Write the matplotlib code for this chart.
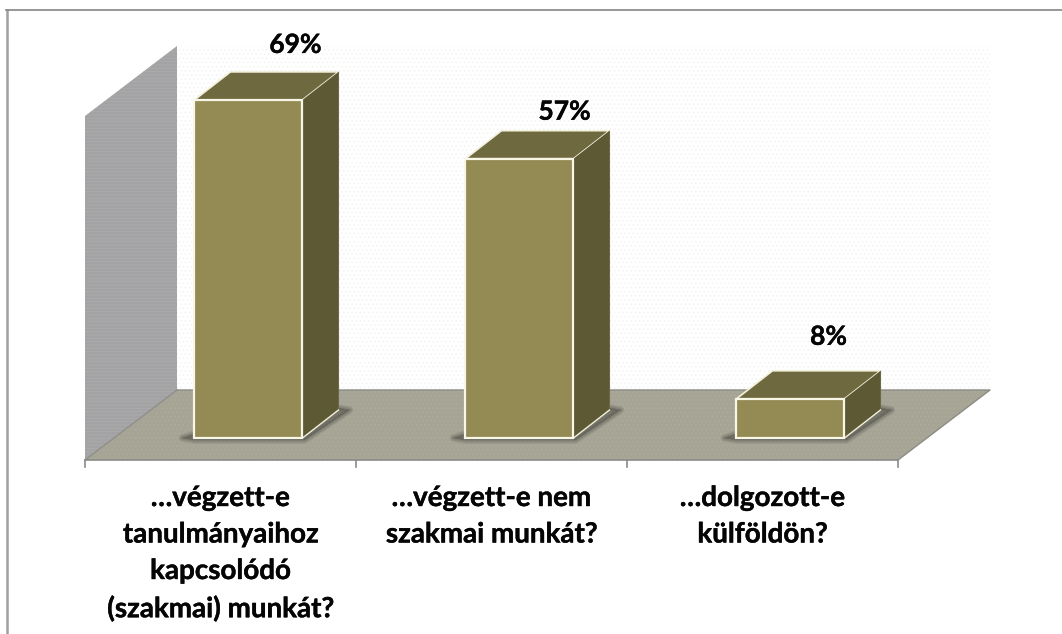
import numpy as np
import matplotlib
matplotlib.use("Agg")
import matplotlib.pyplot as plt
import matplotlib.patheffects as pe
from matplotlib.patches import Polygon

# adatok
kategoriak = ["…végzett-e\ntanulmányaihoz\nkapcsolódó\n(szakmai) munkát?",
              "…végzett-e nem\nszakmai munkát?",
              "…dolgozott-e\nkülföldön?"]
ertekek = [69, 57, 8]
cimkek = ["69%", "57%", "8%"]

W, H = 1062, 634
plt.rcParams['font.family'] = ['Lato', 'DejaVu Sans']
plt.rcParams['hatch.linewidth'] = 0.5

fig = plt.figure(figsize=(W / 100, H / 100), dpi=100)
fig.patch.set_facecolor("white")

# tengely: x 85..898 px, y: 0% = 438 px, 1% = 4.9 px
ax_bal, ax_jobb = 85, 898
y0_px, px_per_pct = 438, 4.9
ax_also, ax_felso = 460, 46
ax = fig.add_axes([ax_bal / W, 1 - ax_also / H, (ax_jobb - ax_bal) / W, (ax_also - ax_felso) / H])
ax.set_xlim(-0.5, 2.5)
ax.set_ylim((y0_px - ax_also) / px_per_pct, (y0_px - ax_felso) / px_per_pct)
ax.axis("off")

px_x = 3 / (ax_jobb - ax_bal)
px_y = 1 / px_per_pct
also, felso = ax.get_ylim()

# melyseg pixelben
mx, my = 36 * px_x, 28 * px_y
fal_mx, fal_my = 92 * px_x, 70 * px_y
szel = 108 * px_x
bal_res = 109.5 * px_x

felkover = [pe.withStroke(linewidth=0.3, foreground="#050505")]


def sokszog(pontok, **kw):
    p = Polygon(pontok, closed=True, clip_on=False, **kw)
    ax.add_patch(p)
    return p


# hatso fal, halvany pontokkal
sokszog([(-0.5 + fal_mx, also + fal_my), (2.5 + fal_mx, also + fal_my),
         (2.5 + fal_mx, felso), (-0.5 + fal_mx, felso)],
        facecolor="white", edgecolor="#f1f1ee", hatch="....", lw=0, zorder=1)

# oldalfal
sokszog([(-0.5, also), (-0.5 + fal_mx, also + fal_my), (-0.5 + fal_mx, felso),
         (-0.5, felso - fal_my)], facecolor="#a3a3a5", edgecolor="#adadad",
        hatch="-----", lw=0, zorder=2)

# padlo
sokszog([(-0.5, also), (2.5, also), (2.5 + fal_mx, also + fal_my), (-0.5 + fal_mx, also + fal_my)],
        facecolor="#a5a495", edgecolor="#adac9e", hatch="....", lw=0, zorder=3)
ax.plot([-0.5 + fal_mx, 2.5 + fal_mx, 2.5], [also + fal_my, also + fal_my, also],
        color="#8c8c84", lw=1, zorder=3, clip_on=False)
ax.plot([-0.5, -0.5 + fal_mx], [also, also + fal_my], color="#8f8f8a", lw=1, zorder=3, clip_on=False)

# oszlopok
for i, v in enumerate(ertekek):
    b = i - 0.5 + bal_res
    j = b + szel
    # elmosott arnyek, hegyes vegekkel
    arnyek = [(b - 12 * px_x, 0), (b, -2 * px_y), (j + 2 * px_x, -2 * px_y),
              (j + mx + 11 * px_x, my), (j + mx, my + 2 * px_y), (j, 4 * px_y), (b, 4 * px_y)]
    for lw in [5.5, 4.5, 3.5, 2.5, 1.5, 0.5]:
        ax.add_patch(Polygon(arnyek, closed=True, facecolor="#55554d", edgecolor="#55554d", lw=lw,
                             alpha=0.11, zorder=4, joinstyle="round", clip_on=False))
    # teto
    sokszog([(b, v), (j, v), (j + mx, v + my), (b + mx, v + my)],
            facecolor="#6f693f", edgecolor="#f3f0dc", lw=1.2, zorder=5, joinstyle="round")
    # oldal
    sokszog([(j, 0), (j + mx, my), (j + mx, v + my), (j, v)],
            facecolor="#5e5935", edgecolor="#f3f0dc", lw=0, zorder=5)
    ax.plot([j, j + mx], [0, my], color="#f3f0dc", lw=1, zorder=6)
    ax.plot([j + mx, j + mx], [my, v + my], color="#6d6845", lw=0.8, zorder=5)
    # eleje
    sokszog([(b, 0), (j, 0), (j, v), (b, v)],
            facecolor="#938a54", edgecolor="#f8f6e6", lw=1.6, zorder=7, joinstyle="miter")

# tengelyvonal es osztasok
ax.plot([-0.5, 2.5], [also, also], color="#8a8a8a", lw=1.2, zorder=8, clip_on=False)
for t in [-0.5, 0.5, 1.5, 2.5]:
    ax.plot([t, t], [also, also - 7 * px_y], color="#8a8a8a", lw=1.2, zorder=8, clip_on=False)

# kategoria feliratok
for i, szoveg in enumerate(kategoriak):
    ax.annotate(szoveg, xy=(i, also), xytext=(0, -18), textcoords="offset points",
                ha="center", va="top", fontsize=20, fontweight="bold", color="#050505",
                linespacing=1.5, annotation_clip=False, path_effects=felkover)

# ertek feliratok, kepponteltolassal
eltolas = [(47, 55), (45, 47), (38, 62)]
for i, v in enumerate(ertekek):
    kozep = i - 0.5 + bal_res + szel / 2
    ax.annotate(cimkek[i], xy=(kozep, v), xytext=(eltolas[i][0] * 0.72, eltolas[i][1] * 0.72),
                textcoords="offset points", ha="center", va="center", fontsize=19,
                fontweight="bold", color="#050505", annotation_clip=False, path_effects=felkover)

# keret: csak bal es felso vonal
keret = fig.add_axes([0, 0, 1, 1], zorder=-1)
keret.set_xlim(0, W)
keret.set_ylim(H, 0)
keret.axis("off")
keret.plot([6.5, 6.5], [634, 9.5], color="#a0a0a0", lw=1.8)
keret.plot([6, 1062], [9.5, 9.5], color="#858585", lw=1.2)

fig.savefig("out.png", dpi=100, facecolor="white")
